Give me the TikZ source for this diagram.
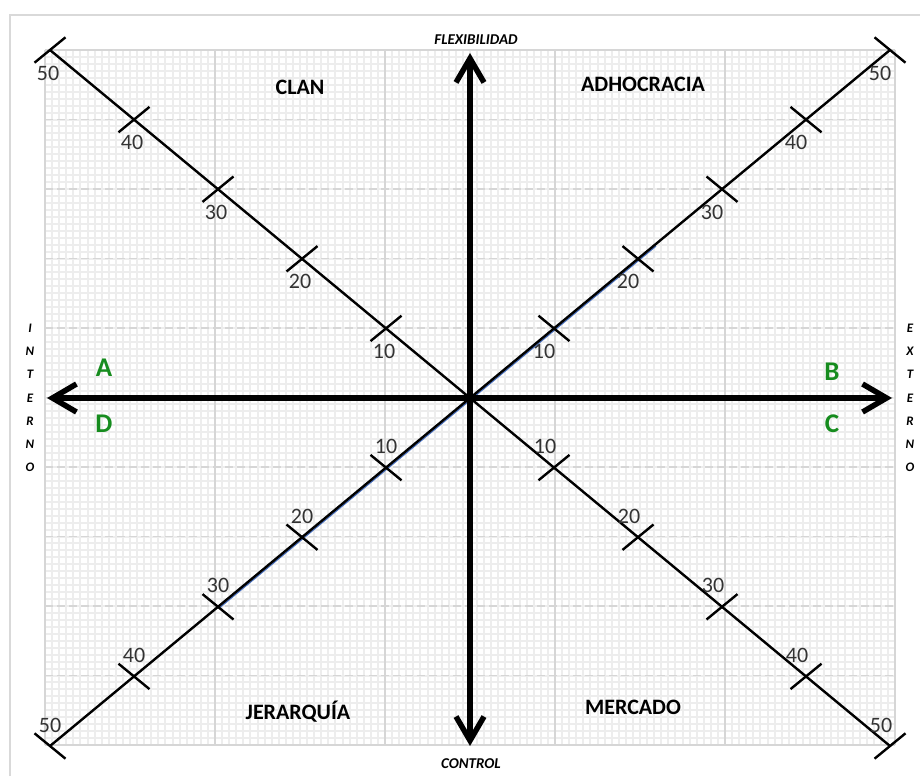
\documentclass[tikz,border=0pt]{standalone}
\usepackage{fontspec}
\setmainfont{Carlito}
\usetikzlibrary{arrows.meta, calc}
\definecolor{QuadGreen}{RGB}{22, 140, 30}
\definecolor{GridGray}{RGB}{214, 214, 214}
\definecolor{FineGray}{RGB}{237, 237, 237}
\definecolor{DiagBlue}{RGB}{70, 110, 190}
\tikzset{
    % background grid
    finegrid/.style={
        draw=FineGray,
        line width=2pt
    },
    majorgrid/.style={
        draw=GridGray,
        line width=2pt
    },
    dashedgrid/.style={
        dash pattern=on 8pt off 4pt,
        line width=1.6pt
    },
    panelline/.style={
        draw=gray!30,
        line width=1.5pt
    },
    % axes and diagonals
    axisarrow/.style={
        line width=5.5pt,
        {Straight Barb[length=24pt,width=28pt]}-{Straight Barb[length=24pt,width=28pt]}
    },
    diagline/.style={
        draw=black,
        line width=2.4pt
    },
    tickmark/.style={
        draw=black,
        line width=2.4pt
    },
    % texts
    ticklabel/.style={
        text=black!80,
        font=\fontsize{22}{24}\selectfont,
        inner sep=0pt
    },
    quadlabel/.style={
        font=\fontsize{22}{24}\selectfont\bfseries,
        inner sep=0pt
    },
    letterlabel/.style={
        text=QuadGreen,
        font=\fontsize{27}{29}\selectfont\bfseries,
        inner sep=0pt
    },
    axistitle/.style={
        font=\fontsize{15}{17}\selectfont\bfseries\itshape,
        inner sep=0pt
    },
    sidelabel/.style={
        font=\fontsize{13}{23.2}\selectfont\bfseries\itshape,
        align=center,
        inner sep=0pt
    }
}

\begin{document}
\begin{tikzpicture}[x=1pt, y=-1pt]
    \useasboundingbox (0,0) rectangle (920,776);
    \fill[white] (0,0) rectangle (920,776);
    \draw[panelline] (10,776) -- (10,15) -- (920,15);

    % chart area
    \fill[white] (45,50) rectangle (895,745);
    \foreach \i in {0,...,120}
        \draw[finegrid] ({45+\i*7.0833},50) -- ({45+\i*7.0833},745);
    \foreach \j in {0,...,100}
        \draw[finegrid] (45,{50+\j*6.95}) -- (895,{50+\j*6.95});
    \foreach \i in {0,...,5}
        \draw[majorgrid] ({45+170*\i},50) -- ({45+170*\i},745);
    \foreach \j in {1,...,9}
        \draw[majorgrid, dashedgrid] (45,{50+69.5*\j}) -- (895,{50+69.5*\j});
    \draw[majorgrid] (45,50) -- (895,50) (45,745) -- (895,745);

    % centre and scale points on the diagonals
    \coordinate (o) at (470,398);
    \foreach \k in {1,...,5} {
        \coordinate (ul\k) at ({470-84*\k},{398-69.6*\k});
        \coordinate (ur\k) at ({470+84*\k},{398-69.6*\k});
        \coordinate (ll\k) at ({470-84*\k},{398+69.6*\k});
        \coordinate (lr\k) at ({470+84*\k},{398+69.6*\k});
    }

    \draw[draw=DiagBlue, line width=1.2pt] ($(ll3)+(1.2,1.2)$) -- ($(o)!1.1!(ur2)+(1.2,1.2)$);
    \draw[diagline] (ul5) -- (lr5);
    \draw[diagline] (ll5) -- (ur5);

    \foreach \k in {1,...,5} {
        \draw[tickmark] ($(ul\k)+(-15.5,12.7)$) -- ($(ul\k)+(15.5,-12.7)$);
        \draw[tickmark] ($(lr\k)+(-15.5,12.7)$) -- ($(lr\k)+(15.5,-12.7)$);
        \draw[tickmark] ($(ur\k)+(-15.5,-12.7)$) -- ($(ur\k)+(15.5,12.7)$);
        \draw[tickmark] ($(ll\k)+(-15.5,-12.7)$) -- ($(ll\k)+(15.5,12.7)$);
        \node[ticklabel] (ul\k-lab) at ($(ul\k)+(-2,23)$) {\k0};
        \node[ticklabel] (ur\k-lab) at ($(ur\k)+(-10,23)$) {\k0};
        \node[ticklabel] (ll\k-lab) at ($(ll\k)+(0,-21)$) {\k0};
        \node[ticklabel] (lr\k-lab) at ($(lr\k)+(-9,-21)$) {\k0};
    }

    % main axes
    \coordinate (top) at (470,53);
    \coordinate (bottom) at (470,746);
    \coordinate (left) at (47,398);
    \coordinate (right) at (892,398);
    \draw[axisarrow] (bottom) -- (top);
    \draw[axisarrow] (left) -- (right);

    \node[axistitle] (flex) at (476,40) {FLEXIBILIDAD};
    \node[axistitle] (ctrl) at (471,764) {CONTROL};
    \node[sidelabel] (interno) at (30,398) {I\\N\\T\\E\\R\\N\\O};
    \node[sidelabel] (externo) at (910,398) {E\\X\\T\\E\\R\\N\\O};

    \node[quadlabel] (clan) at (300,87) {CLAN};
    \node[quadlabel] (adhoc) at (643,84) {ADHOCRACIA};
    \node[quadlabel] (jerarq) at (298,712) {JERARQUÍA};
    \node[quadlabel] (merc) at (633,707) {MERCADO};

    \node[letterlabel] (qa) at (104,368) {A};
    \node[letterlabel] (qd) at (104,424) {D};
    \node[letterlabel] (qb) at (832,372) {B};
    \node[letterlabel] (qc) at (832,424) {C};
\end{tikzpicture}
\end{document}
